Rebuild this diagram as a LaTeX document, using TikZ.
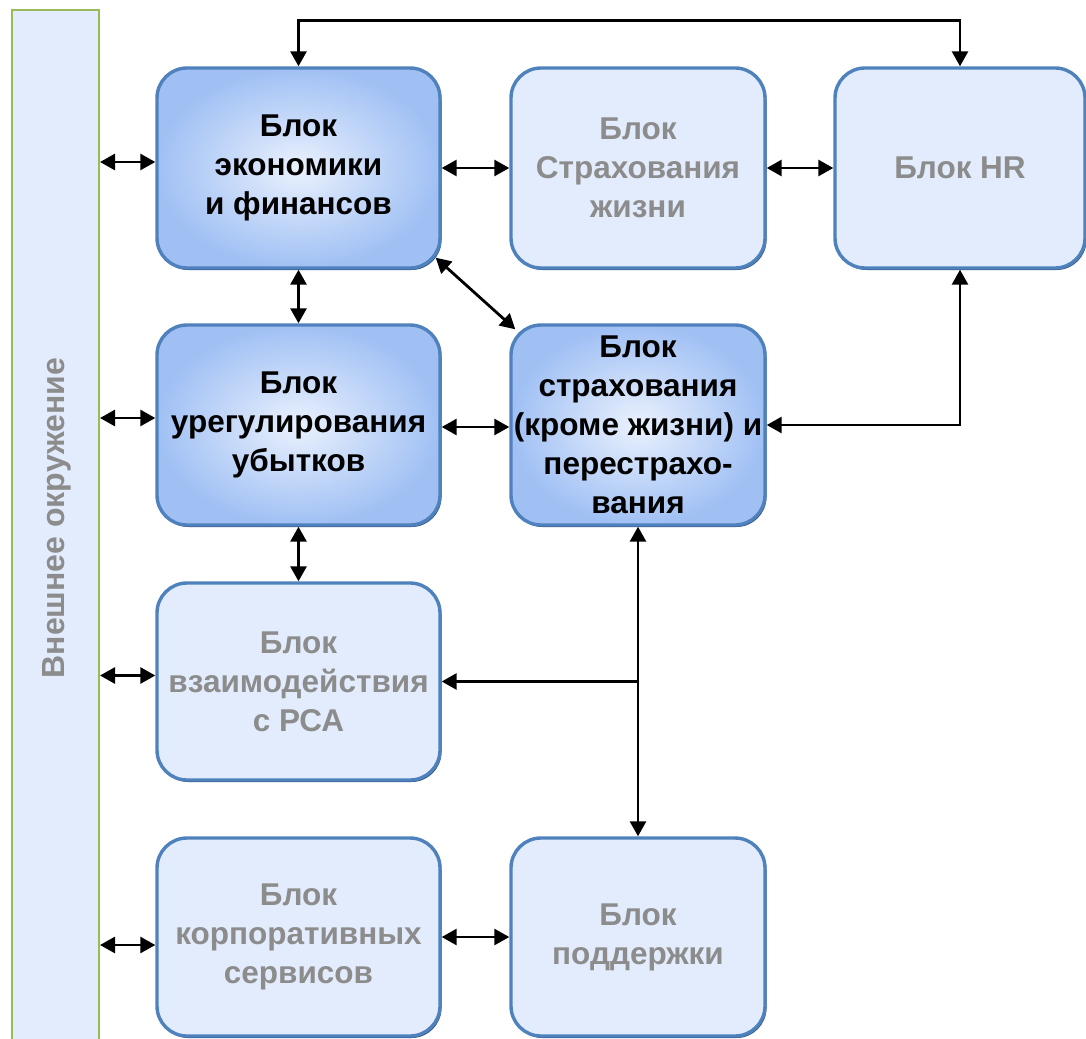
\documentclass[tikz,border=0pt]{standalone}
\usepackage{fontspec}
\setmainfont{Liberation Sans}
\usetikzlibrary{arrows.meta,calc,shadows}
\definecolor{boxline}{RGB}{79,129,189}
\definecolor{boxshadow}{RGB}{47,82,130}
\definecolor{lightfill}{RGB}{226,236,252}
\definecolor{darkouter}{RGB}{160,192,244}
\definecolor{darkinner}{RGB}{234,241,253}
\definecolor{greytext}{RGB}{140,140,140}
\definecolor{barline}{RGB}{155,187,89}
\tikzset{
  blk/.style={rectangle, rounded corners=30pt, draw=boxline, line width=3.4pt,
    align=center, font=\bfseries\fontsize{31.5}{39}\selectfont, inner sep=0pt,
    drop shadow={shadow xshift=1.5pt, shadow yshift=-2pt, fill=boxshadow, opacity=1}},
  darkblk/.style={blk, inner color=darkinner, outer color=darkouter, text=black},
  lightblk/.style={blk, fill=lightfill, text=greytext},
  conn/.style={line width=2.8pt, {Triangle[length=15pt,width=16pt]}-{Triangle[length=15pt,width=16pt]}},
  conn1/.style={line width=2.8pt, -{Triangle[length=15pt,width=16pt]}},
}
\begin{document}
\begin{tikzpicture}[x=1pt,y=-1pt]
\useasboundingbox (0,0) rectangle (1086,1038);
% left bar
\node[draw=barline, fill=lightfill, line width=2pt, minimum width=87pt, minimum height=1030pt, inner sep=0pt] (bar) at (55.5,525) {};
\node[rotate=90, text=greytext, font=\bfseries\fontsize{32}{39}\selectfont] (bartext) at (57,518) {Внешнее окружение};
% boxes
\node[darkblk, minimum width=283pt, minimum height=200pt] (econ) at (298.5,168) {Блок\\экономики\\и финансов};
\node[lightblk, minimum width=254pt, minimum height=200pt] (life) at (638,168) {Блок\\Страхования\\жизни};
\node[lightblk, minimum width=250pt, minimum height=200pt] (hr) at (960,168) {Блок HR};
\node[darkblk, minimum width=283pt, minimum height=200pt] (urg) at (298.5,425) {Блок\\урегулирования\\убытков};
\node[darkblk, minimum width=254pt, minimum height=200pt] (ins) at (638,425) {Блок\\страхования\\(кроме жизни) и\\перестрахо-\\вания};
\node[lightblk, minimum width=283pt, minimum height=197pt] (pca) at (298.5,681.5) {Блок\\взаимодействия\\с РСА};
\node[lightblk, minimum width=283pt, minimum height=198pt] (corp) at (298.5,937) {Блок\\корпоративных\\сервисов};
\node[lightblk, minimum width=254pt, minimum height=198pt] (supp) at (638,937) {Блок\\поддержки};
% connectors
\draw[conn] ([yshift=6pt]econ.west -| bar.east) -- ([yshift=6pt]econ.west);
\draw[conn] ([yshift=7pt]urg.west -| bar.east) -- ([yshift=7pt]urg.west);
\draw[conn] ([yshift=6pt]pca.west -| bar.east) -- ([yshift=6pt]pca.west);
\draw[conn] ([yshift=-8pt]corp.west -| bar.east) -- ([yshift=-8pt]corp.west);
\draw[conn] (econ.east) -- (life.west);
\draw[conn] (life.east) -- (hr.west);
\draw[conn] (econ.north) -- ++(0,-46) -| (hr.north);
\draw[conn] (econ.south) -- (urg.north);
\draw[conn] ([xshift=-6pt,yshift=12pt]econ.south east) -- ([xshift=6pt,yshift=-6pt]ins.north west);
\draw[conn] ([yshift=-2pt]urg.east) -- ([yshift=-2pt]ins.west);
\draw[conn] (ins.east) -| (hr.south);
\draw[conn] (urg.south) -- (pca.north);
\draw[conn] (ins.south) -- (supp.north);
\coordinate (br) at (ins.south |- pca.east);
\draw[conn1] (br) -- (pca.east);
\draw[conn] (corp.east) -- (supp.west);
\end{tikzpicture}
\end{document}
